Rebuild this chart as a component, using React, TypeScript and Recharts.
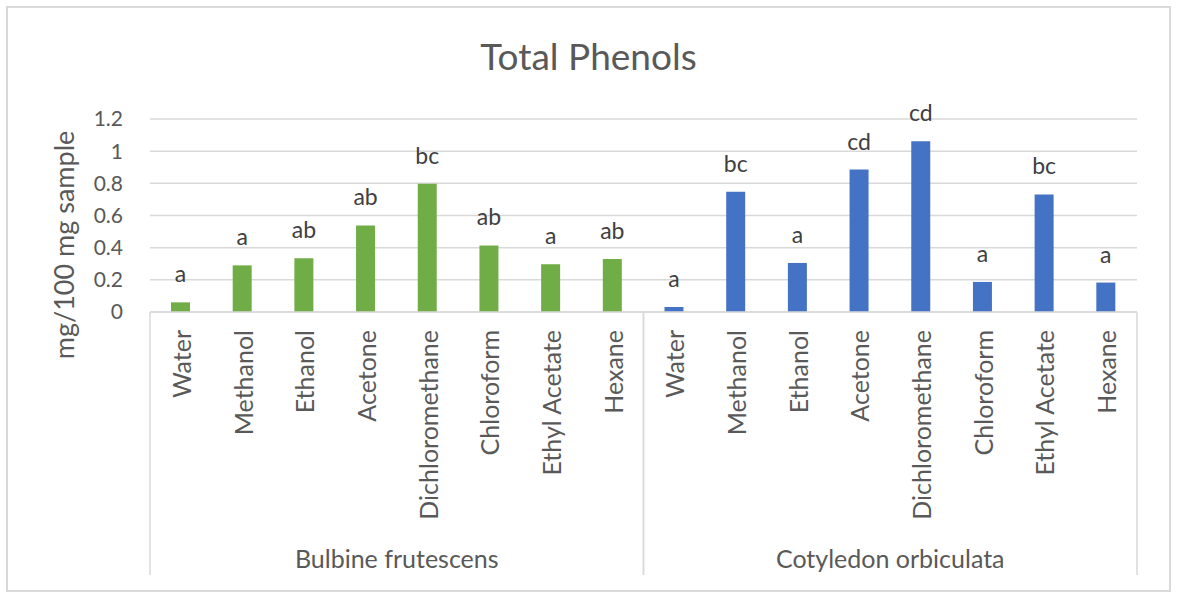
import React from "react";
import {
  BarChart,
  Bar,
  Cell,
  XAxis,
  YAxis,
  CartesianGrid,
  LabelList,
} from "recharts";

const solvents = [
  "Water",
  "Methanol",
  "Ethanol",
  "Acetone",
  "Dichloromethane",
  "Chloroform",
  "Ethyl Acetate",
  "Hexane",
];
const species = ["Bulbine frutescens", "Cotyledon orbiculata"];
const bulbineValues = [0.06, 0.29, 0.334, 0.538, 0.797, 0.414, 0.297, 0.329];
const cotyledonValues = [0.031, 0.747, 0.305, 0.886, 1.061, 0.187, 0.731, 0.183];
const bulbineLetters = ["a", "a", "ab", "ab", "bc", "ab", "a", "ab"];
const cotyledonLetters = ["a", "bc", "a", "cd", "cd", "a", "bc", "a"];
const yTicks = [0, 0.2, 0.4, 0.6, 0.8, 1, 1.2];
const speciesColors = ["#70AD47", "#4472C4"];

const data = [
  ...solvents.map((s, i) => ({
    solvent: s,
    group: species[0],
    value: bulbineValues[i],
    letter: bulbineLetters[i],
    color: speciesColors[0],
  })),
  ...solvents.map((s, i) => ({
    solvent: s,
    group: species[1],
    value: cotyledonValues[i],
    letter: cotyledonLetters[i],
    color: speciesColors[1],
  })),
];

const TEXT = "#595959";
const GRID = "#d9d9d9";
const SOLVENT_AXIS_H = 218;
const GROUP_AXIS_H = 45;

const SolventTick = (props: any) => {
  const { x, y, payload } = props;
  const ty = y + 18;
  return (
    <text
      x={x}
      y={ty}
      transform={`rotate(-90, ${x}, ${ty})`}
      textAnchor="end"
      dominantBaseline="central"
      fill={TEXT}
      fontSize={25}
    >
      {payload.value}
    </text>
  );
};

const GroupTick = (props: any) => {
  const { x, y, payload, width } = props;
  const half = payload.offset ? payload.offset : width / 4;
  return (
    <g>
      <line x1={x - half} x2={x - half} y1={y - SOLVENT_AXIS_H} y2={y + GROUP_AXIS_H} stroke={GRID} strokeWidth={1.5} />
      <line x1={x + half} x2={x + half} y1={y - SOLVENT_AXIS_H} y2={y + GROUP_AXIS_H} stroke={GRID} strokeWidth={1.5} />
      <text x={x} y={y + 28} textAnchor="middle" dominantBaseline="central" fill={TEXT} fontSize={25}>
        {payload.value}
      </text>
    </g>
  );
};

const YLabel = () => (
  <text
    x={63}
    y={245}
    transform="rotate(-90, 63, 245)"
    textAnchor="middle"
    dominantBaseline="central"
    fill={TEXT}
    fontSize={27}
  >
    mg/100 mg sample
  </text>
);

export default function App() {
  return (
    <div
      style={{
        position: "absolute",
        left: 0,
        top: 0,
        width: 1177,
        height: 597,
        background: "#fff",
        fontFamily: "Lato, sans-serif",
      }}
    >
      <div
        style={{
          position: "absolute",
          left: 6,
          top: 6,
          width: 1165,
          height: 586,
          boxSizing: "border-box",
          border: `2px solid ${GRID}`,
        }}
      />
      <div
        style={{
          position: "absolute",
          left: 0,
          top: 37,
          width: 1177,
          textAlign: "center",
          fontSize: 37,
          lineHeight: "37px",
          color: TEXT,
        }}
      >
        Total Phenols
      </div>
      <div style={{ position: "absolute", left: 0, top: 0 }}>
        <BarChart
          width={1177}
          height={597}
          data={data}
          margin={{ top: 119, right: 40, left: 0, bottom: 22 }}
        >
          <CartesianGrid horizontal vertical={false} stroke={GRID} strokeWidth={1.5} />
          <XAxis
            dataKey="solvent"
            height={SOLVENT_AXIS_H}
            interval={0}
            tickLine={false}
            tickSize={0}
            tickMargin={0}
            axisLine={{ stroke: GRID, strokeWidth: 1.5 }}
            tick={<SolventTick />}
          />
          <XAxis
            xAxisId="grp"
            dataKey="group"
            allowDuplicatedCategory={false}
            height={GROUP_AXIS_H}
            interval={0}
            tickLine={false}
            tickSize={0}
            tickMargin={0}
            axisLine={false}
            tick={<GroupTick />}
          />
          <YAxis
            width={150}
            domain={[0, 1.2]}
            ticks={yTicks}
            axisLine={false}
            tickLine={false}
            tickSize={0}
            tickMargin={27}
            tick={{ fill: TEXT, fontSize: 21 }}
            label={<YLabel />}
          />
          <Bar dataKey="value" barSize={19} isAnimationActive={false}>
            {data.map((d, i) => (
              <Cell key={i} fill={d.color} />
            ))}
            <LabelList dataKey="letter" position="top" offset={20} fill="#404040" fontSize={23} />
          </Bar>
        </BarChart>
      </div>
    </div>
  );
}
